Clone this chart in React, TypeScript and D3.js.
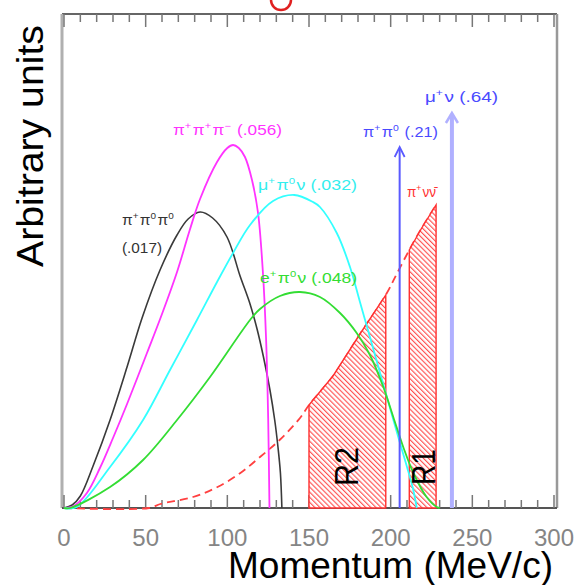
import React from "react";
import * as d3 from "d3";

// ---------- data (momentum in MeV/c, height in arbitrary units) ----------
const blackP = [0, 5, 10, 17.8, 28.2, 38.6, 47.8, 58.8, 69.2, 76, 83.3, 91, 99.8, 107.8, 113.9, 118.2, 122, 126.1, 129, 131, 132.5, 133.4];
const blackH = [0, 3, 12, 42, 88, 141, 190, 238, 273, 289, 296, 290, 271, 232, 204, 179, 152, 118, 88, 61, 35, 0];

const magentaP = [0, 6, 14, 22, 30, 38.6, 50.8, 60, 69.2, 77, 83.3, 93.7, 100, 103.5, 107, 110.8, 115.1, 118.8, 121.8, 123.7, 125, 125.8];
const magentaH = [0, 2, 15, 40, 70, 104, 155, 194, 236, 278, 309, 346, 360, 363, 360, 351, 328, 295, 235, 170, 90, 0];

const cyanP = [0, 7.8, 28.2, 48.4, 64.9, 81.4, 93.7, 103.5, 113.9, 128, 141, 152.4, 156.7, 167, 175.1, 181.2, 187.3, 193.5, 199.6, 205.7, 210, 213.7, 216];
const cyanH = [0, 1, 41, 88, 138, 188, 226, 255, 283, 307, 313, 306, 301, 275, 241, 206, 171, 135, 100, 65, 41, 19, 0];

const greenP = [0, 3.7, 28.2, 48.4, 69.2, 89.4, 113.9, 120, 132.2, 144.5, 156.7, 169, 179.2, 187.3, 195.5, 201.6, 207.7, 213.9, 222, 228.2, 230];
const greenH = [0, 0, 21, 48, 88, 131, 188, 199, 212, 216, 211, 195, 175, 153, 121, 91, 61, 35, 11, 1, 0];

const redP = [0, 52, 59, 79, 94, 108, 120, 132, 144.5, 150, 164.7, 181.2, 197, 204, 211.4, 219, 227.8];
const redH = [0, 0, 4, 11, 21, 35, 51, 68, 90, 103, 132, 174, 213, 235, 258, 280, 303];

const regionR2 = [150, 197];
const regionR1 = [211.4, 227.8];

const arrowP = [205.5, 237.5];
const arrowH = [361, 395];

const xMinorTicks = d3.range(0, 301, 10);
const xMajorTicks = [0, 50, 100, 150, 200, 250, 300];
const xTickLabels = ["0", "50", "100", "150", "200", "250", "300"];

const xTitle = "Momentum (MeV/c)";
const yTitle = "Arbitrary units";

// ---------- layout ----------
const W = 580;
const H = 585;
const FL = 62, FR = 557, FT = 14, FB = 508;

type Pt = [number, number];
const zip = (p: number[], h: number[]): Pt[] => p.map((v, i) => [v, h[i]] as Pt);

const Sup = ({ t }: { t: string }) => (
  <>
    <tspan dy={-6} fontSize={9}>{t}</tspan>
    <tspan dy={6}>{"\u200A"}</tspan>
  </>
);

export default function App() {
  const x = d3.scaleLinear().domain([0, 300]).range([64, 554]);
  const y = d3.scaleLinear().domain([0, 494]).range([FB, FT]);

  const line = d3
    .line<Pt>()
    .x((d) => x(d[0]))
    .y((d) => y(d[1]))
    .curve(d3.curveCatmullRom.alpha(0.5));

  const area = d3
    .area<Pt>()
    .x((d) => x(d[0]))
    .y0(y(0))
    .y1((d) => y(d[1]))
    .curve(d3.curveLinear);

  const red = zip(redP, redH);
  const inRange = (r: number[]) => red.filter((d) => d[0] >= r[0] && d[0] <= r[1]);

  const labelFont = "'Liberation Sans', Arial, sans-serif";

  return (
    <svg
      width={W}
      height={H}
      style={{ position: "absolute", left: 0, top: 0, background: "#fff" }}
      fontFamily={labelFont}
    >
      <defs>
        <pattern id="hatch" width={3.6} height={3.6} patternUnits="userSpaceOnUse" patternTransform="rotate(-45)">
          <rect width={3.6} height={3.6} fill="#fff" />
          <line x1={0.6} y1={0} x2={0.6} y2={3.6} stroke="#ff4040" strokeWidth={1.05} />
        </pattern>
      </defs>

      {/* red ring at top */}
      <circle cx={281} cy={0} r={10} fill="none" stroke="#e02020" strokeWidth={2.5} />

      {/* frame */}
      <line x1={FL} x2={FR} y1={FT} y2={FT} stroke="#666" strokeWidth={2} />
      <line x1={FL} x2={FL} y1={FT} y2={FB} stroke="#b0b0b0" strokeWidth={3} />
      <line x1={FR} x2={FR} y1={FT} y2={FB} stroke="#999" strokeWidth={2.5} />
      <line x1={FL} x2={FR} y1={FB} y2={FB} stroke="#555" strokeWidth={2} />

      {/* ticks */}
      {xMinorTicks.map((t) => {
        const major = xMajorTicks.includes(t);
        const len = major ? 13 : 8;
        return (
          <g key={t} stroke="#777" strokeWidth={1.5}>
            <line x1={x(t)} x2={x(t)} y1={FB} y2={FB - len} />
            <line x1={x(t)} x2={x(t)} y1={FT} y2={FT + len} />
          </g>
        );
      })}
      {xMajorTicks.map((t, i) => (
        <text key={t} x={x(t)} y={546} textAnchor="middle" fontSize={24} fill="#858585">
          {xTickLabels[i]}
        </text>
      ))}

      {/* axis titles */}
      <text x={228} y={578} fontSize={36} fill="#000" textLength={325} lengthAdjust="spacingAndGlyphs">
        {xTitle}
      </text>
      <text
        transform="translate(43,267) rotate(-90)"
        x={0}
        y={0}
        fontSize={36}
        fill="#000"
        textLength={242}
        lengthAdjust="spacingAndGlyphs"
      >
        {yTitle}
      </text>

      {/* pi nu nubar dashed */}
      <path d={line(red) || ""} fill="none" stroke="#ff4040" strokeWidth={1.8} strokeDasharray="8,5" />

      {/* hatched regions */}
      {[regionR2, regionR1].map((r, i) => (
        <path
          key={i}
          d={area(inRange(r)) || ""}
          fill="url(#hatch)"
          stroke="#ff3030"
          strokeWidth={1.4}
        />
      ))}

      {/* curves */}
      <path d={line(zip(blackP, blackH)) || ""} fill="none" stroke="#3a3a3a" strokeWidth={1.6} />
      <path d={line(zip(magentaP, magentaH)) || ""} fill="none" stroke="#ff33ff" strokeWidth={1.8} />
      <path d={line(zip(cyanP, cyanH)) || ""} fill="none" stroke="#33ffff" strokeWidth={1.8} />
      <path d={line(zip(greenP, greenH)) || ""} fill="none" stroke="#33dd33" strokeWidth={1.8} />

      {/* arrows */}
      {arrowP.map((p, i) => {
        const tip = y(arrowH[i]);
        const thick = i === 1;
        const col = thick ? "#b0b0ff" : "#5a5aff";
        const w = thick ? 4 : 2;
        const hw = thick ? 6 : 5;
        return (
          <g key={i} stroke={col} fill="none">
            <line x1={x(p)} x2={x(p)} y1={FB} y2={tip + 1} strokeWidth={w} />
            <polyline
              points={`${x(p) - hw},${tip + 10} ${x(p)},${tip} ${x(p) + hw},${tip + 10}`}
              strokeWidth={thick ? 2.5 : 1.8}
            />
          </g>
        );
      })}

      {/* region labels */}
      <text transform="translate(358,486) rotate(-90)" fontSize={34} fill="#000" textLength={39} lengthAdjust="spacingAndGlyphs">
        R2
      </text>
      <text transform="translate(435,485) rotate(-90)" fontSize={34} fill="#000" textLength={36} lengthAdjust="spacingAndGlyphs">
        R1
      </text>

      {/* curve labels */}
      <g fontSize={14}>
        <text x={173} y={135} fill="#ff33ff" textLength={109} lengthAdjust="spacingAndGlyphs">
          π<Sup t="+" />π<Sup t="+" />π<Sup t="−" /> (.056)
        </text>
        <text x={258} y={190} fill="#33eeee" textLength={99} lengthAdjust="spacingAndGlyphs">
          μ<Sup t="+" />π<Sup t="0" />ν (.032)
        </text>
        <text x={122} y={225} fill="#333" textLength={53} lengthAdjust="spacingAndGlyphs">
          π<Sup t="+" />π<Sup t="0" />π<Sup t="0" />
        </text>
        <text x={122} y={253} fill="#333" textLength={40} lengthAdjust="spacingAndGlyphs">
          (.017)
        </text>
        <text x={260} y={283} fill="#33dd33" textLength={97} lengthAdjust="spacingAndGlyphs">
          e<Sup t="+" />π<Sup t="0" />ν (.048)
        </text>
        <text x={407} y={197} fill="#ff3030" textLength={29} lengthAdjust="spacingAndGlyphs">
          π<Sup t="+" />νν̄
        </text>
        <text x={363} y={137} fill="#4a4aff" textLength={75} lengthAdjust="spacingAndGlyphs">
          π<Sup t="+" />π<Sup t="0" /> (.21)
        </text>
        <text x={425} y={102} fill="#4a4aff" textLength={73} lengthAdjust="spacingAndGlyphs">
          μ<Sup t="+" />ν (.64)
        </text>
      </g>
    </svg>
  );
}
